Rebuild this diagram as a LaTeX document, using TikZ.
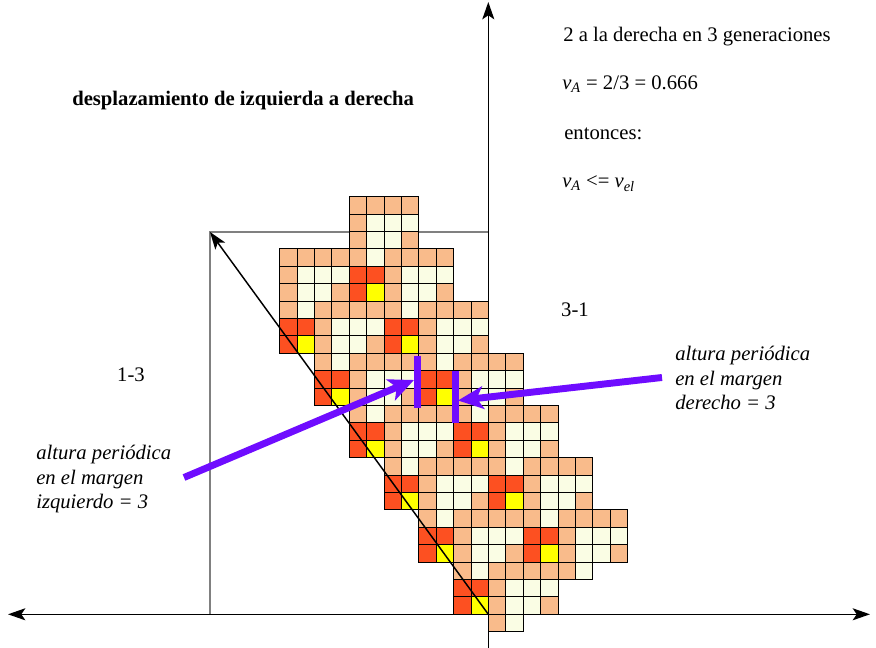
\documentclass[tikz,border=0pt]{standalone}
\usepackage{fontspec}
\setmainfont{Liberation Serif}
\usetikzlibrary{arrows.meta}
\definecolor{celda0}{HTML}{F9BB8B}
\definecolor{celda1}{HTML}{FAFDE4}
\definecolor{celda2}{HTML}{FD5021}
\definecolor{celda3}{HTML}{FFFF00}
\definecolor{marca}{HTML}{6F0CFF}
\tikzset{
  celda/.style={draw=black, line width=0.6pt},
  eje/.style={line width=1.1pt},
  punta/.tip={Stealth[length=13pt, width=9pt, inset=3pt]},
  marco/.style={draw=black!50, line width=0.8pt},
  barra/.style={draw=marca, line width=5.2pt},
  flecha/.style={draw=marca, line width=5.2pt, -{Stealth[length=19pt, width=17pt, inset=5pt]}}
}
\begin{document}
\begin{tikzpicture}[x=0.75pt, y=-0.75pt,
  texto/.style={anchor=base west, inner sep=0pt, font=\fontsize{15.5}{18.4}\selectfont},
  nota/.style={texto, align=left, font=\fontsize{15.5}{18.4}\selectfont\itshape},
  titulo/.style={texto, font=\fontsize{15.5}{18.4}\selectfont\bfseries}
]
\useasboundingbox (0,0) rectangle (876,648);
% ---- marco de la ventana ----
\coordinate (o) at (488.3,614.3);
\coordinate (esq) at (210,232);
\draw[marco] (o |- esq) -- (esq) -- (esq |- o);
% ---- celdas: periodo de 3 filas, 2 columnas a la derecha ----
\foreach \t/\a/\b in {0/-8/-5, 1/-8/-5, 2/-8/-5, 3/-12/-3, 4/-12/-3, 5/-12/-3,
    6/-12/-1, 7/-12/-1, 8/-12/-1, 9/-10/1, 10/-10/1, 11/-10/1,
    12/-8/3, 13/-8/3, 14/-8/3, 15/-6/5, 16/-6/5, 17/-6/5,
    18/-4/7, 19/-4/7, 20/-4/7, 21/-2/5, 22/-2/3, 23/-2/3, 24/0/1} {
  \foreach \c in {\a,...,\b} {
    \pgfmathtruncatemacro\k{floor(\t/3)}
    \pgfmathtruncatemacro\m{mod(\t,3)}
    \pgfmathtruncatemacro\i{mod(\c-2*\k+64,6)}
    \pgfmathtruncatemacro\code{{0,1,0,0,0,0,2,2,0,1,1,1,2,3,0,1,1,0}[6*\m+\i]}
    \draw[celda, fill=celda\code] ({488.3+17.4*\c},{196.7+17.4*\t}) rectangle +(17.4,17.4);
  }
}
% ---- ejes ----
\coordinate (izq) at (8,614.3);
\coordinate (der) at (870,614.3);
\coordinate (arr) at (488.3,2);
\coordinate (aba) at (488.3,648);
\draw[eje, punta-punta] (izq) -- (der);
\draw[eje, -punta] (aba) -- (arr);
\draw[eje, -punta] (o) -- (esq);
% ---- textos ----
\node[titulo] (tit) at (72,105.5) {desplazamiento de izquierda a derecha};
\node[texto] (gen) at (563,42) {2 a la derecha en 3 generaciones};
\node[texto] (vel) at (562,90) {\textit{v}\textsubscript{\textit{A}} = 2/3 = 0.666};
\node[texto] (ent) at (564,140) {entonces:};
\node[texto] (cmp) at (562,188) {\textit{v}\textsubscript{\textit{A}} <= \textit{v}\textsubscript{\textit{el}}};
\node[texto, anchor=center] (l13) at (131,375) {1-3};
\node[texto, anchor=center] (l31) at (575,310) {3-1};
\node[nota] (nizq) at (36,509) {altura periódica\\en el margen\\izquierdo = 3};
\node[nota] (nder) at (675,410) {altura periódica\\en el margen\\derecho = 3};
% ---- alturas periodicas ----
\coordinate (b1a) at (417.3,355.7);
\coordinate (b1b) at (417.3,407.7);
\coordinate (b2a) at (455.5,371);
\coordinate (b2b) at (455.5,422.7);
\draw[barra] (b1a) -- (b1b);
\draw[barra] (b2a) -- (b2b);
\coordinate (t1) at (184,477.5);
\coordinate (p1) at (414,380);
\coordinate (t2) at (662,377.5);
\coordinate (p2) at (458,400.5);
\draw[flecha] (t1) -- (p1);
\draw[flecha] (t2) -- (p2);
\end{tikzpicture}
\end{document}
